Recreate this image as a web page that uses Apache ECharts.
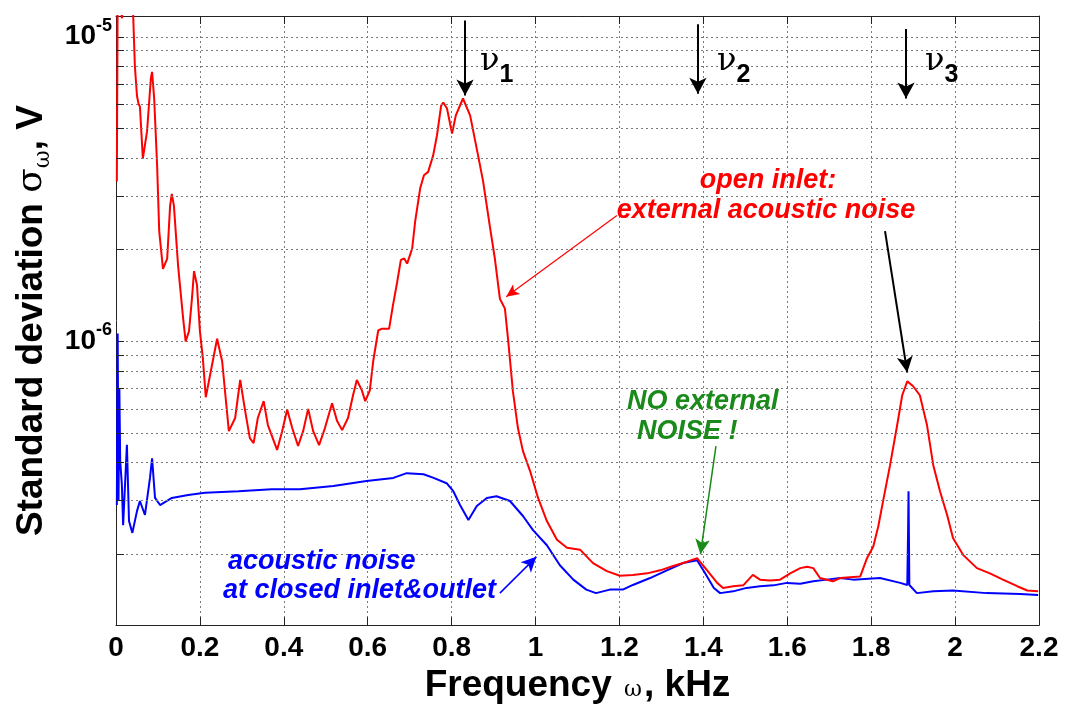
<!DOCTYPE html>
<html>
<head>
<meta charset="utf-8">
<script src="https://cdn.jsdelivr.net/npm/echarts@6/dist/echarts.min.js"></script>
<style>
  html, body { margin: 0; padding: 0; background: #fff; }
  #chart { width: 1065px; height: 709px; }
</style>
</head>
<body>
<div id="chart"></div>
<script>
// open inlet: external acoustic noise (red)
const redFreq = [0.002, 0.004, 0.008, 0.014, 0.022, 0.036, 0.041, 0.045, 0.050, 0.054, 0.057, 0.064, 0.074, 0.083, 0.086, 0.091, 0.098, 0.103, 0.112, 0.122,
  0.129, 0.133, 0.138, 0.148, 0.160, 0.166, 0.174, 0.181, 0.186, 0.193, 0.200, 0.207, 0.214, 0.241, 0.253, 0.269, 0.284, 0.296, 0.308, 0.319,
  0.328, 0.338, 0.352, 0.362, 0.384, 0.396, 0.408, 0.420, 0.434, 0.446, 0.458, 0.470, 0.484, 0.498, 0.515, 0.527, 0.539, 0.553, 0.565, 0.574,
  0.586, 0.594, 0.605, 0.613, 0.625, 0.634, 0.651, 0.660, 0.670, 0.679, 0.687, 0.694, 0.706, 0.713, 0.725, 0.734, 0.744, 0.756, 0.765, 0.775,
  0.780, 0.789, 0.801, 0.810, 0.827, 0.844, 0.863, 0.875, 0.892, 0.903, 0.915, 0.927, 0.935, 0.946, 0.958, 0.970, 0.987, 1.006, 1.027, 1.051,
  1.075, 1.106, 1.137, 1.170, 1.201, 1.232, 1.266, 1.297, 1.328, 1.361, 1.385, 1.409, 1.433, 1.447, 1.471, 1.495, 1.518, 1.535, 1.559, 1.583,
  1.607, 1.631, 1.647, 1.662, 1.678, 1.709, 1.726, 1.774, 1.790, 1.805, 1.817, 1.828, 1.845, 1.862, 1.874, 1.886, 1.900, 1.916, 1.933, 1.948,
  1.964, 1.981, 1.995, 2.019, 2.052, 2.083, 2.114, 2.148, 2.172, 2.198]
const redSigma = [3.35e-6, 1.4e-5, 1.5e-5, 1.15e-5, 1.5e-5, 1.4e-5, 1.17e-5, 8.0e-6, 6.4e-6, 6.0e-6, 5.9e-6, 3.98e-6, 4.89e-6, 7.28e-6, 7.67e-6, 6.27e-6, 3.78e-6, 2.30e-6, 1.73e-6, 1.87e-6,
  2.79e-6, 3.05e-6, 2.79e-6, 1.77e-6, 1.19e-6, 1.0e-6, 1.08e-6, 1.38e-6, 1.70e-6, 1.53e-6, 1.08e-6, 8.8e-7, 6.55e-7, 1.02e-6, 8.6e-7, 5.07e-7, 5.60e-7, 7.47e-7, 5.89e-7, 4.81e-7,
  4.63e-7, 5.60e-7, 6.36e-7, 5.31e-7, 4.40e-7, 5.07e-7, 5.97e-7, 5.19e-7, 4.53e-7, 5.07e-7, 6.0e-7, 5.07e-7, 4.56e-7, 5.19e-7, 6.26e-7, 5.47e-7, 5.11e-7, 5.60e-7, 6.65e-7, 7.47e-7,
  6.90e-7, 6.36e-7, 6.90e-7, 8.6e-7, 1.085e-6, 1.10e-6, 1.10e-6, 1.31e-6, 1.56e-6, 1.85e-6, 1.87e-6, 1.80e-6, 2.02e-6, 2.47e-6, 3.18e-6, 3.51e-6, 3.60e-6, 4.08e-6, 4.74e-6, 5.94e-6,
  6.08e-6, 5.81e-6, 4.81e-6, 5.52e-6, 6.27e-6, 5.52e-6, 4.08e-6, 3.35e-6, 2.34e-6, 1.87e-6, 1.38e-6, 1.28e-6, 1.0e-6, 6.86e-7, 5.19e-7, 4.36e-7, 3.75e-7, 3.06e-7, 2.57e-7, 2.23e-7,
  2.10e-7, 2.07e-7, 1.87e-7, 1.76e-7, 1.70e-7, 1.71e-7, 1.73e-7, 1.77e-7, 1.83e-7, 1.89e-7, 1.94e-7, 1.77e-7, 1.61e-7, 1.55e-7, 1.57e-7, 1.58e-7, 1.71e-7, 1.65e-7, 1.64e-7, 1.65e-7,
  1.73e-7, 1.80e-7, 1.82e-7, 1.80e-7, 1.67e-7, 1.63e-7, 1.67e-7, 1.69e-7, 1.94e-7, 2.12e-7, 2.47e-7, 2.97e-7, 3.92e-7, 5.31e-7, 6.65e-7, 7.39e-7, 7.12e-7, 6.65e-7, 5.31e-7, 3.92e-7,
  3.22e-7, 2.69e-7, 2.26e-7, 1.99e-7, 1.80e-7, 1.73e-7, 1.65e-7, 1.57e-7, 1.52e-7, 1.51e-7]

// acoustic noise at closed inlet&outlet (blue)
const blueFreq = [0.002, 0.004, 0.006, 0.008, 0.010, 0.014, 0.017, 0.026, 0.031, 0.039, 0.050, 0.057, 0.069, 0.081, 0.086, 0.093, 0.105, 0.133, 0.172, 0.212,
  0.292, 0.371, 0.438, 0.518, 0.597, 0.661, 0.693, 0.733, 0.757, 0.788, 0.804, 0.820, 0.840, 0.860, 0.884, 0.907, 0.939, 0.970, 0.994, 1.027,
  1.058, 1.090, 1.121, 1.144, 1.177, 1.208, 1.232, 1.273, 1.313, 1.352, 1.385, 1.401, 1.425, 1.440, 1.471, 1.503, 1.535, 1.567, 1.599, 1.631,
  1.662, 1.694, 1.726, 1.757, 1.821, 1.869, 1.886, 1.888, 1.889, 1.891, 1.909, 1.948, 1.995, 2.075, 2.155, 2.198]
const blueSigma = [2.9e-7, 1.06e-6, 3.0e-7, 7.0e-7, 4.04e-7, 3.38e-7, 2.49e-7, 4.57e-7, 2.57e-7, 2.35e-7, 2.77e-7, 2.99e-7, 2.69e-7, 3.56e-7, 4.13e-7, 3.06e-7, 2.90e-7, 3.06e-7, 3.13e-7, 3.18e-7,
  3.22e-7, 3.27e-7, 3.27e-7, 3.35e-7, 3.48e-7, 3.56e-7, 3.69e-7, 3.66e-7, 3.56e-7, 3.42e-7, 3.22e-7, 2.90e-7, 2.59e-7, 2.88e-7, 3.06e-7, 3.10e-7, 2.99e-7, 2.67e-7, 2.40e-7, 2.14e-7,
  1.84e-7, 1.65e-7, 1.53e-7, 1.49e-7, 1.53e-7, 1.53e-7, 1.585e-7, 1.67e-7, 1.77e-7, 1.87e-7, 1.91e-7, 1.76e-7, 1.55e-7, 1.49e-7, 1.51e-7, 1.55e-7, 1.57e-7, 1.58e-7, 1.61e-7, 1.60e-7,
  1.63e-7, 1.65e-7, 1.67e-7, 1.65e-7, 1.67e-7, 1.61e-7, 1.585e-7, 2.4e-7, 3.22e-7, 1.585e-7, 1.49e-7, 1.51e-7, 1.52e-7, 1.49e-7, 1.48e-7, 1.47e-7]

// axis ranges and minor grid values
const xMin = 0
const xMax = 2.2
const xStep = 0.2
const yMin = 1.17e-7
const yMax = 1.17e-5
const minorGrid = [2e-7, 3e-7, 4e-7, 5e-7, 6e-7, 7e-7, 8e-7, 9e-7, 2e-6, 3e-6, 4e-6, 5e-6, 6e-6, 7e-6, 8e-6, 9e-6]

// resonance markers nu1..nu3
const nuFreq = [0.832, 1.387, 1.883]
const nuTop = [1.13e-5, 1.10e-5, 1.06e-5]
const nuTip = [6.42e-6, 6.5e-6, 6.27e-6]
const nuNames = ['1', '2', '3']

const zip = (xs, ys) => xs.map((x, i) => [x, ys[i]])

const chartInstance = echarts.init(document.getElementById('chart'), null, { renderer: 'canvas' })

const boldFont = 'Liberation Sans, Arial, sans-serif'
const frameColor = '#222'
const gridStyle = { color: '#7a7a7a', width: 1, type: [2, 3] }

// minor grid lines + minor ticks (log axis has no 2..9 minor ticks)
const minorLines = []
minorGrid.forEach(v => {
  minorLines.push([{ coord: [xMin, v], lineStyle: gridStyle }, { coord: [xMax, v] }])
  minorLines.push([{ coord: [xMin, v], lineStyle: { color: frameColor, width: 1, type: 'solid' } }, { coord: [0.019, v] }])
  minorLines.push([{ coord: [xMax - 0.019, v], lineStyle: { color: frameColor, width: 1, type: 'solid' } }, { coord: [xMax, v] }])
})

const arrow = (from, to, color, width, size) => [
  { coord: from, symbol: 'none', lineStyle: { color: color, width: width, type: 'solid' } },
  { coord: to, symbol: 'arrow', symbolSize: size }
]
const arrowLines = nuFreq.map((f, i) => arrow([f, nuTop[i]], [f, nuTip[i]], '#000', 2, [13, 16]))
arrowLines.push(arrow([1.194, 2.59e-6], [0.930, 1.40e-6], '#ff0000', 1.2, [9, 13]))
arrowLines.push(arrow([1.833, 2.30e-6], [1.886, 7.9e-7], '#000', 2, [12, 16]))
arrowLines.push(arrow([1.430, 4.53e-7], [1.393, 2.0e-7], '#1a8a1a', 1.5, [11, 15]))
arrowLines.push(arrow([0.915, 1.49e-7], [1.002, 1.96e-7], '#0000ff', 1.5, [11, 15]))

const annFont = 'italic bold 27px Liberation Sans, Arial, sans-serif'
const textEl = (x, y, text, color, align) => ({
  type: 'text', x: x, y: y, z: 100,
  style: { text: text, fill: color, font: annFont, align: align || 'left', verticalAlign: 'middle' }
})
const nuX = [480, 717, 925]
const nuLabels = nuX.map((x, i) => ({
  type: 'text', x: x, y: 62, z: 100,
  style: {
    text: '{n|ν}{s|' + nuNames[i] + '}',
    verticalAlign: 'middle',
    rich: {
      n: { fontSize: 32, fontFamily: 'DejaVu Serif, serif', fill: '#000' },
      s: { fontSize: 25, fontWeight: 'bold', fontFamily: boldFont, fill: '#000', padding: [26, 0, 0, 0] }
    }
  }
}))

const initOption = {
  animation: false,
  backgroundColor: '#fff',
  grid: { left: 116, right: 26, top: 16, bottom: 82, containLabel: false },
  xAxis: [
    {
      type: 'value', min: xMin, max: xMax, interval: xStep, position: 'bottom',
      axisLine: { show: true, onZero: false, lineStyle: { color: frameColor, width: 1 } },
      axisTick: { show: true, inside: true, length: 8, lineStyle: { color: frameColor } },
      axisLabel: { fontSize: 28, fontWeight: 'bold', fontFamily: boldFont, color: '#000', margin: 9 },
      splitLine: { show: true, lineStyle: gridStyle },
      name: '{b|Frequency }{w|ω}{b|, kHz}',
      nameLocation: 'middle',
      nameGap: 40,
      nameTextStyle: {
        rich: {
          b: { fontSize: 37, fontWeight: 'bold', fontFamily: boldFont, color: '#000' },
          w: { fontSize: 22, fontFamily: 'DejaVu Serif, serif', color: '#000', padding: [10, 2, 0, 2] }
        }
      }
    },
    {
      type: 'value', min: xMin, max: xMax, interval: xStep, position: 'top',
      axisLine: { show: true, onZero: false, lineStyle: { color: frameColor, width: 1 } },
      axisTick: { show: true, inside: true, length: 8, lineStyle: { color: frameColor } },
      axisLabel: { show: false },
      splitLine: { show: false }
    }
  ],
  yAxis: [
    {
      type: 'log', min: yMin, max: yMax, position: 'left',
      axisLine: { show: true, onZero: false, lineStyle: { color: frameColor, width: 1 } },
      axisTick: { show: true, inside: true, length: 8, lineStyle: { color: frameColor } },
      axisLabel: {
        margin: 4,
        formatter: function (v) {
          const e = Math.round(Math.log10(v))
          if (Math.abs(Math.log10(v) - e) > 1e-6) return ''
          return '{b|10}{s|' + e + '}'
        },
        rich: {
          b: { fontSize: 28, fontWeight: 'bold', fontFamily: boldFont, color: '#000' },
          s: { fontSize: 18, fontWeight: 'bold', fontFamily: boldFont, color: '#000', padding: [0, 0, 22, 0] }
        }
      },
      splitLine: { show: true, lineStyle: gridStyle },
      name: '{b|Standard deviation }{g|σ}{w|ω}{b|, V}',
      nameLocation: 'middle',
      nameGap: 62,
      nameTextStyle: {
        rich: {
          b: { fontSize: 37, fontWeight: 'bold', fontFamily: boldFont, color: '#000' },
          g: { fontSize: 36, fontFamily: 'DejaVu Serif, serif', color: '#000' },
          w: { fontSize: 22, fontFamily: 'DejaVu Serif, serif', color: '#000', padding: [22, 0, 0, 0] }
        }
      }
    },
    {
      type: 'log', min: yMin, max: yMax, position: 'right',
      axisLine: { show: true, onZero: false, lineStyle: { color: frameColor, width: 1 } },
      axisTick: { show: true, inside: true, length: 8, lineStyle: { color: frameColor } },
      axisLabel: { show: false },
      splitLine: { show: false }
    }
  ],
  graphic: [
    textEl(768, 181, 'open inlet:', '#ff0000', 'center'),
    textEl(766, 211, 'external acoustic noise', '#ff0000', 'center'),
    textEl(627, 402, 'NO external', '#1a8a1a'),
    textEl(637, 432, 'NOISE !', '#1a8a1a'),
    textEl(228, 562, 'acoustic noise', '#0000ff'),
    textEl(223, 591, 'at closed inlet&outlet', '#0000ff')
  ].concat(nuLabels),
  series: [
    {
      // grid helper: minor log grid lines and ticks
      type: 'line', data: [[xMin, 1e-6]], symbol: 'none', silent: true, z: 1,
      lineStyle: { width: 0 },
      markLine: { silent: true, symbol: 'none', label: { show: false }, animation: false, data: minorLines }
    },
    {
      name: 'closed', type: 'line', data: zip(blueFreq, blueSigma), symbol: 'none', z: 3,
      lineStyle: { color: '#0000ff', width: 2 }
    },
    {
      name: 'open', type: 'line', data: zip(redFreq, redSigma), symbol: 'none', z: 4,
      lineStyle: { color: '#ff0000', width: 2 }
    },
    {
      // annotation arrows
      type: 'line', data: [[xMin, 1e-6]], symbol: 'none', silent: true, z: 10,
      lineStyle: { width: 0 },
      markLine: { silent: true, label: { show: false }, animation: false, data: arrowLines }
    }
  ]
}
chartInstance.setOption(initOption)
</script>
</body>
</html>
